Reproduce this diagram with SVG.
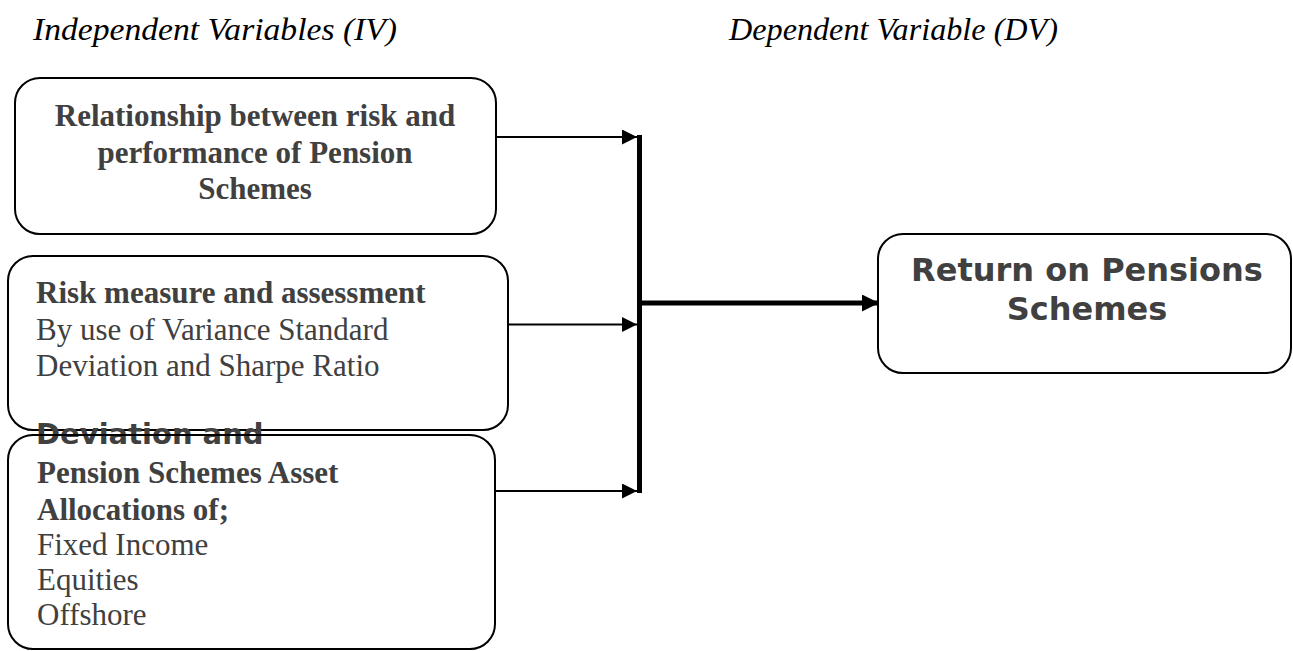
<svg xmlns="http://www.w3.org/2000/svg" width="1293" height="651" viewBox="0 0 1293 651">
<style>
.box{fill:none;stroke:#000;stroke-width:2}
.t{font-family:"Liberation Serif","Times New Roman",serif;font-size:31px;fill:#404040}
.b{font-weight:bold}
.s{font-family:"DejaVu Sans",sans-serif;font-weight:bold;fill:#404040}
.hd{font-family:"Liberation Serif","Times New Roman",serif;font-style:italic;font-size:31px;fill:#000}
.thin{stroke:#000;stroke-width:2;fill:none}
.thick{stroke:#000;stroke-width:5;fill:none}
</style>
<defs>
<marker id="ah" markerUnits="userSpaceOnUse" markerWidth="15" markerHeight="15" refX="15" refY="7.5" orient="auto">
<path d="M0,0 L15,7.5 L0,15 Z" fill="#000"/>
</marker>
<marker id="ahb" markerUnits="userSpaceOnUse" markerWidth="17" markerHeight="17" refX="17" refY="8.5" orient="auto">
<path d="M0,0 L17,8.5 L0,17 Z" fill="#000"/>
</marker>
</defs>
<rect width="1293" height="651" fill="#fff"/>
<g id="headings">
<text class="hd" x="33" y="40" textLength="364" lengthAdjust="spacingAndGlyphs">Independent Variables (IV)</text>
<text class="hd" x="729" y="40" textLength="329" lengthAdjust="spacingAndGlyphs">Dependent Variable (DV)</text>
</g>
<g id="connectors">
<line class="thin" x1="496" y1="137" x2="637" y2="137" marker-end="url(#ah)"/>
<line class="thin" x1="508" y1="324.5" x2="637" y2="324.5" marker-end="url(#ah)"/>
<line class="thin" x1="495" y1="491" x2="637" y2="491" marker-end="url(#ah)"/>
<line class="thick" x1="639.5" y1="135" x2="639.5" y2="493"/>
<line class="thick" x1="641" y1="303" x2="879" y2="303" marker-end="url(#ahb)"/>
</g>
<g id="iv1">
<rect class="box" x="15" y="78" width="481" height="156" rx="25"/>
<text class="t b" text-anchor="middle" x="255" y="126" font-size="32">Relationship between risk and</text>
<text class="t b" text-anchor="middle" x="255" y="163" font-size="32">performance of Pension</text>
<text class="t b" text-anchor="middle" x="255" y="199" font-size="32">Schemes</text>
</g>
<g id="iv2">
<rect class="box" x="8" y="256" width="500" height="174" rx="25"/>
<text class="t b" x="36" y="303" font-size="32">Risk measure and assessment</text>
<text class="t" x="36" y="340">By use of Variance Standard</text>
<text class="t" x="36" y="376">Deviation and Sharpe Ratio</text>
</g>
<g id="iv3">
<text class="s" x="36" y="444" font-size="29">Deviation and</text>
<rect class="box" x="8" y="435" width="487" height="214" rx="25"/>
<text class="t b" x="37" y="483">Pension Schemes Asset</text>
<text class="t b" x="37" y="520">Allocations of;</text>
<text class="t" x="37" y="555">Fixed Income</text>
<text class="t" x="37" y="590">Equities</text>
<text class="t" x="37" y="625">Offshore</text>
</g>
<g id="dv">
<rect class="box" x="878" y="234" width="413" height="139" rx="25"/>
<text class="s" text-anchor="middle" x="1087" y="281" font-size="32">Return on Pensions</text>
<text class="s" text-anchor="middle" x="1087" y="320" font-size="32">Schemes</text>
</g>
</svg>
